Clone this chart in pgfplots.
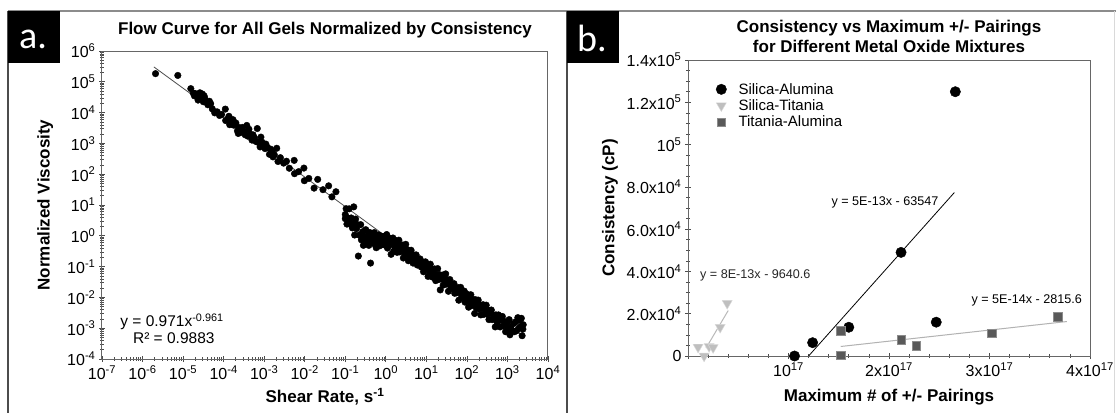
\documentclass[border=0pt]{standalone}
\usepackage{fontspec}
\setmainfont{Liberation Sans}
\newfontfamily\boxfont{Carlito}
\usepackage{pgfplots}
\pgfplotsset{compat=1.18}
\newcommand{\su}[1]{\textsuperscript{#1}}
\begin{document}
\begin{tikzpicture}
\useasboundingbox (0,0) rectangle (1117pt,413pt);
\fill[white] (0,0) rectangle (1117pt,413pt);
\draw[black!45, line width=1.5pt] (8pt,402pt) -- (1116pt,402pt);
\draw[black!70, line width=1.2pt] (8pt,402pt) -- (8pt,0pt);
\draw[black!70, line width=1.2pt] (567pt,402pt) -- (567pt,0pt);
\draw[black!15, line width=1pt] (1114pt,402pt) -- (1114pt,0pt);
\fill[black] (8pt,350pt) rectangle (60pt,402pt);
\fill[black] (567pt,350pt) rectangle (619pt,402pt);
\node[white, font=\boxfont\fontsize{38}{38}\selectfont, inner sep=0pt] at (33pt,374pt) {a.};
\node[white, font=\boxfont\fontsize{38}{38}\selectfont, inner sep=0pt] at (592pt,375pt) {b.};

% ---------------- Left panel ----------------
\begin{axis}[
  at={(102pt,54pt)}, anchor=south west, scale only axis,
  width=446pt, height=308pt,
  xmode=log, ymode=log,
  xmin=1e-7, xmax=1e4, ymin=1e-4, ymax=1e6,
  xtick={1e-7,1e-6,1e-5,1e-4,1e-3,1e-2,1e-1,1,1e1,1e2,1e3,1e4},
  xticklabels={10\su{-7},10\su{-6},10\su{-5},10\su{-4},10\su{-3},10\su{-2},10\su{-1},10\su{0},10\su{1},10\su{2},10\su{3},10\su{4}},
  ytick={1e-4,1e-3,1e-2,1e-1,1,1e1,1e2,1e3,1e4,1e5,1e6},
  yticklabels={10\su{-4},10\su{-3},10\su{-2},10\su{-1},10\su{0},10\su{1},10\su{2},10\su{3},10\su{4},10\su{5},10\su{6}},
  minor xtick={2e-7,3e-7,4e-7,5e-7,6e-7,7e-7,8e-7,9e-7,2e-6,3e-6,4e-6,5e-6,6e-6,7e-6,8e-6,9e-6,2e-5,3e-5,4e-5,5e-5,6e-5,7e-5,8e-5,9e-5,2e-4,3e-4,4e-4,5e-4,6e-4,7e-4,8e-4,9e-4,2e-3,3e-3,4e-3,5e-3,6e-3,7e-3,8e-3,9e-3,0.02,0.03,0.04,0.05,0.06,0.07,0.08,0.09,0.2,0.3,0.4,0.5,0.6,0.7,0.8,0.9,2,3,4,5,6,7,8,9,20,30,40,50,60,70,80,90,200,300,400,500,600,700,800,900,2000,3000,4000,5000,6000,7000,8000,9000},
  minor ytick={2e-4,3e-4,4e-4,5e-4,6e-4,7e-4,8e-4,9e-4,2e-3,3e-3,4e-3,5e-3,6e-3,7e-3,8e-3,9e-3,0.02,0.03,0.04,0.05,0.06,0.07,0.08,0.09,0.2,0.3,0.4,0.5,0.6,0.7,0.8,0.9,2,3,4,5,6,7,8,9,20,30,40,50,60,70,80,90,200,300,400,500,600,700,800,900,2000,3000,4000,5000,6000,7000,8000,9000,2e4,3e4,4e4,5e4,6e4,7e4,8e4,9e4,2e5,3e5,4e5,5e5,6e5,7e5,8e5,9e5},
  tick pos=left, tick align=center,
  major tick length=6pt, minor tick length=3.5pt,
  every tick/.style={black!70, line width=0.7pt},
  axis line style={black!60, line width=1pt},
  tick label style={font=\fontsize{16}{18}\selectfont},
  xlabel={Shear Rate, s\su{-1}}, ylabel={Normalized Viscosity},
  every axis x label/.style={at={(axis description cs:0.5,-0.123)}, anchor=center, font=\fontsize{17}{20}\selectfont\bfseries},
  every axis y label/.style={at={(axis description cs:-0.127,0.5)}, anchor=center, rotate=90, font=\fontsize{17}{20}\selectfont\bfseries},
  clip=false,
]
\addplot[black!70, line width=0.8pt] coordinates {(1.9e-6,3.05e5) (2.4e3,5.48e-4)};
\addplot[only marks, mark=*, mark size=3.3pt, black] table {
x y
2.09e-6 1.84e5
7.41e-6 1.61e5
1.55e-5 6.0e4
1.78e-5 4.29e4
1.91e-5 3.49e4
1.95e-5 4.2e4
2.09e-5 3.84e4
2.34e-5 2.55e4
2.51e-5 3.37e4
2.6e-5 4.4e4
2.82e-5 3.24e4
3.0e-5 4.0e4
3.16e-5 2.25e4
3.3e-5 3.5e4
3.47e-5 2.84e4
3.80e-5 2.26e4
4.07e-5 1.80e4
4.47e-5 2.33e4
4.79e-5 1.94e4
5.25e-5 1.32e4
6.03e-5 9.8e3
6.92e-5 1.06e4
7.94e-5 8.07e3
8.91e-5 8.69e3
1.10e-4 1.30e4
1.12e-4 5.53e3
1.26e-4 6.10e3
1.35e-4 7.6e3
1.41e-4 4.05e3
1.58e-4 5.48e3
1.7e-4 5.9e3
1.78e-4 3.90e3
2.00e-4 4.60e3
2.19e-4 2.54e3
2.3e-4 2.1e3
2.40e-4 3.28e3
2.69e-4 2.28e3
2.9e-4 3.3e3
3.16e-4 2.46e3
3.4e-4 1.9e3
3.72e-4 3.83e3
3.98e-4 1.71e3
4.2e-4 2.9e3
4.47e-4 2.02e3
5.01e-4 1.28e3
5.3e-4 1.9e3
5.75e-4 1.52e3
6.3e-4 1.15e3
6.76e-4 3.04e3
7.08e-4 1.08e3
7.94e-4 769
8.3e-4 1.6e3
8.91e-4 1.09e3
1.05e-3 678
1.1e-3 950
1.20e-3 746
1.35e-3 442
1.45e-3 650
1.58e-3 535
1.65e-3 365
1.78e-3 427
2.04e-3 695
2.19e-3 259
2.51e-3 344
3.02e-3 229
3.55e-3 264
4.17e-3 156
5.50e-3 281
5.60e-3 104
7.08e-3 121
9.55e-3 158
9.80e-3 61.4
1.26e-2 72.9
1.70e-2 35.3
2.09e-2 67.8
2.82e-2 31.4
3.89e-2 41.9
4.68e-2 18.4
5.89e-2 26.9
0.100 4.9
0.100 3.6
0.105 7.6
0.110 2.4
0.120 3.7
0.125 7.5
0.130 2.4
0.140 3.8
0.150 1.8
0.160 2.5
0.162 8.7
0.170 1.06
0.180 3.5
0.190 1.7
0.200 2.3
0.210 0.22
0.220 1.05
0.240 2.3
0.250 0.74
0.270 1.36
0.280 0.49
0.300 0.92
0.320 1.58
0.340 0.68
0.360 1.02
0.380 0.49
0.400 1.28
0.420 0.13
0.440 0.74
0.470 1.0
0.500 0.56
0.520 1.27
0.550 0.77
0.580 0.41
0.600 0.94
0.630 0.60
0.660 1.07
0.700 0.47
0.740 0.70
0.780 0.97
0.820 0.52
0.860 0.72
0.900 0.95
0.950 0.50
1.0 0.68
1.05 1.1
1.1 0.40
1.15 0.76
1.2 0.49
1.3 0.82
1.35 0.25
1.4 0.55
1.5 0.85
1.55 0.31
1.6 0.58
1.7 0.40
1.8 0.69
1.9 0.29
2.0 0.45
2.1 0.72
2.2 0.30
2.3 0.48
2.45 0.33
2.6 0.50
2.7 0.19
2.85 0.355
3.0 0.24
3.1 0.53
3.3 0.28
3.5 0.35
3.6 0.155
3.8 0.27
4.0 0.19
4.2 0.34
4.5 0.205
4.7 0.13
5.0 0.237
5.3 0.156
5.6 0.24
6.0 0.112
6.3 0.165
6.7 0.132
7.0 0.178
7.5 0.097
8.0 0.137
8.5 0.068
9.0 0.104
9.5 0.143
10 0.085
10.5 0.116
11 0.048
11.5 0.088
12 0.062
12.5 0.12
13 0.070
14 0.046
14.5 0.081
15 0.057
16 0.084
17 0.035
18 0.054
19 0.086
20 0.038
21 0.055
22 0.0175
23 0.040
25 0.053
26 0.025
28 0.039
30 0.058
31 0.027
33 0.037
35 0.0158
36 0.0276
38 0.038
40 0.0195
42 0.0265
45 0.021
48 0.028
50 0.0136
53 0.0202
56 0.0141
60 0.0208
63 0.0081
66 0.0146
70 0.0212
74 0.0100
78 0.0146
82 0.0112
86 0.016
90 0.0070
95 0.0109
100 0.0128
105 0.0078
110 0.0048
115 0.0096
120 0.0073
125 0.0122
130 0.0054
140 0.0084
150 0.0063
155 0.0030
160 0.0085
170 0.0046
180 0.0059
190 0.0082
200 0.0042
210 0.0057
220 0.0027
230 0.0044
250 0.0058
260 0.0028
280 0.0041
300 0.0056
310 0.0029
330 0.0039
350 0.0019
370 0.0030
400 0.0039
420 0.0019
450 0.0027
480 0.0021
500 0.0011
520 0.0027
550 0.0016
600 0.0027
630 0.0018
660 0.0011
700 0.0019
750 0.0024
800 0.0012
850 0.00165
900 0.00077
950 0.0012
1000 0.0016
1050 0.00085
1100 0.0019
1150 0.00061
1200 0.00107
1300 0.0008
1400 0.0014
1500 0.00077
1600 0.0016
1700 0.00084
1800 0.0022
1900 0.0010
2000 0.0018
2100 0.0011
2200 0.0021
2300 0.00057
2400 0.00093
2450 0.0013
};
\node[font=\fontsize{17}{20}\selectfont\bfseries] at (axis description cs:0.5,1.068) {Flow Curve for All Gels Normalized by Consistency};
\node[font=\fontsize{15.5}{18}\selectfont] at (axis description cs:0.157,0.12) {y = 0.971x\su{-0.961}};
\node[font=\fontsize{15.5}{18}\selectfont] at (axis description cs:0.161,0.068) {R² = 0.9883};
\end{axis}

% ---------------- Right panel ----------------
\begin{axis}[
  at={(688pt,57pt)}, anchor=south west, scale only axis,
  width=402pt, height=296pt,
  xmin=0, xmax=4e17, ymin=0, ymax=1.4e5,
  scaled x ticks=false, scaled y ticks=false,
  xtick={0,1e17,2e17,3e17,4e17},
  xticklabels={,10\su{17},2x10\su{17},3x10\su{17},4x10\su{17}},
  minor x tick num=4,
  ytick={0,20000,40000,60000,80000,100000,120000,140000},
  yticklabels={0,2.0x10\su{4},4.0x10\su{4},6.0x10\su{4},8.0x10\su{4},10\su{5},1.2x10\su{5},1.4x10\su{5}},
  minor y tick num=3,
  tick pos=left, tick align=center,
  major tick length=6pt, minor tick length=3.5pt,
  every tick/.style={black!70, line width=0.7pt},
  axis line style={black!60, line width=1pt},
  tick label style={font=\fontsize{16}{18}\selectfont},
  xlabel={Maximum \# of +/- Pairings}, ylabel={Consistency (cP)},
  every axis x label/.style={at={(axis description cs:0.5,-0.139)}, anchor=center, font=\fontsize{17}{20}\selectfont\bfseries},
  every axis y label/.style={at={(axis description cs:-0.194,0.5)}, anchor=center, rotate=90, font=\fontsize{17}{20}\selectfont\bfseries},
  legend style={draw=none, fill=none, at={(axis description cs:0.062,0.936)}, anchor=north west,
    font=\fontsize{15}{17}\selectfont, row sep=0pt, column sep=10pt},
  legend cell align=left,
  clip=false,
]
\addplot[black, line width=0.8pt, forget plot] coordinates {(1.20e17,0) (2.65e17,77300)};
\addplot[gray!55, line width=1pt, forget plot] coordinates {(0.18e17,3800) (0.40e17,21500)};
\addplot[gray!60, line width=1pt, forget plot] coordinates {(1.52e17,4500) (3.77e17,16300)};
\addplot[only marks, mark=*, mark size=5.2pt, black] coordinates {
(1.06e17,0) (1.24e17,6300) (1.60e17,13600) (2.12e17,49000) (2.47e17,16000) (2.66e17,125000)};
\addlegendentry{Silica-Alumina}
\addplot[only marks, mark=triangle*, mark size=5.8pt, mark options={rotate=180, fill=gray!50, draw=gray!30}] coordinates {
(0.10e17,4200) (0.16e17,0) (0.21e17,4500) (0.25e17,4000) (0.32e17,13600) (0.39e17,24900)};
\addlegendentry{Silica-Titania}
\addplot[only marks, mark=square*, mark size=4.3pt, mark options={fill=black!65, draw=black!45}] coordinates {
(1.52e17,300) (1.52e17,12100) (2.12e17,7700) (2.27e17,5000) (3.02e17,10800) (3.68e17,18700)};
\addlegendentry{Titania-Alumina}
\node[font=\fontsize{12.6}{15}\selectfont] at (axis cs:1.96e17,72500) {y = 5E-13x - 63547};
\node[font=\fontsize{12.6}{15}\selectfont, black!85] at (axis cs:0.67e17,38000) {y = 8E-13x - 9640.6};
\node[font=\fontsize{12.6}{15}\selectfont] at (axis cs:3.37e17,26500) {y = 5E-14x - 2815.6};
\node[font=\fontsize{17}{20}\selectfont\bfseries, align=center] at (axis description cs:0.5,1.078) {Consistency vs Maximum +/- Pairings\\for Different Metal Oxide Mixtures};
\end{axis}
\end{tikzpicture}
\end{document}
